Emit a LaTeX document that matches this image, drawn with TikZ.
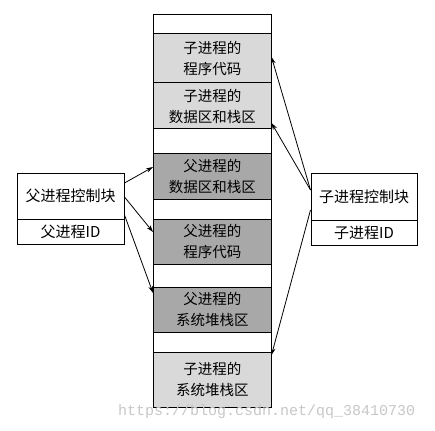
\documentclass[tikz,border=0pt]{standalone}
\usepackage{fontspec}
\setmainfont{Noto Sans CJK SC}
\newfontfamily\wmfont{Liberation Mono}
\usetikzlibrary{arrows.meta}
\definecolor{lightseg}{HTML}{D9D9D9}
\definecolor{darkseg}{HTML}{A8A8A8}
\begin{document}
\begin{tikzpicture}[x=1pt,y=-1pt,
  seg/.style={draw=black,line width=1pt,minimum width=117.5pt,inner sep=0pt,
    align=center,font=\fontsize{14.5}{21}\selectfont},
  lseg/.style={seg,fill=lightseg},
  dseg/.style={seg,fill=darkseg},
  wseg/.style={seg,fill=white},
  cell/.style={draw=black,line width=1pt,inner sep=0pt,
    font=\fontsize{15}{17}\selectfont},
  arr/.style={line width=0.8pt,-{Stealth[length=7pt,width=4.5pt]}}]
\useasboundingbox (0,0) rectangle (435,430);
% column
\node[wseg,minimum height=19pt] (w0) at (212.25,24.5) {};
\node[lseg,minimum height=49pt] (c1) at (212.25,58.5) {子进程的\\程序代码};
\node[lseg,minimum height=46pt] (c2) at (212.25,106) {子进程的\\数据区和栈区};
\node[wseg,minimum height=25pt] (w1) at (212.25,141.5) {};
\node[dseg,minimum height=45pt] (p1) at (212.25,176.5) {父进程的\\数据区和栈区};
\node[wseg,minimum height=20pt] (w2) at (212.25,209) {};
\node[dseg,minimum height=45pt] (p2) at (212.25,241.5) {父进程的\\程序代码};
\node[wseg,minimum height=23pt] (w3) at (212.25,275.5) {};
\node[dseg,minimum height=45pt] (p3) at (212.25,309.5) {父进程的\\系统堆栈区};
\node[wseg,minimum height=20pt] (w4) at (212.25,342) {};
\node[lseg,minimum height=55pt] (c3) at (212.25,379.5) {子进程的\\系统堆栈区};
% left box
\node[cell,minimum width=107pt,minimum height=46pt] (pcb) at (70.5,196) {父进程控制块};
\node[cell,minimum width=107pt,minimum height=25pt] (pid) at (70.5,231.5) {父进程ID};
% right box
\node[cell,minimum width=106pt,minimum height=47pt] (ccb) at (364,196.5) {子进程控制块};
\node[cell,minimum width=106pt,minimum height=25pt] (cid) at (364,232.5) {子进程ID};
% arrows
\draw[arr] ([yshift=13pt]pcb.east) -- ([yshift=9.5pt]p1.west);
\draw[arr] ([yshift=-1pt]pcb.east) -- ([yshift=9.5pt]p2.west);
\draw[arr] ([yshift=-19pt]pcb.east) -- ([yshift=16.5pt]p3.west);
\draw[arr] ([yshift=6.5pt]ccb.west) -- ([yshift=1.5pt]c1.east);
\draw[arr] ([yshift=6.5pt]ccb.west) -- ([yshift=-17pt]c2.east);
\draw[arr] ([yshift=-13.5pt]ccb.west) -- ([yshift=24.5pt]c3.east);
% watermark
\node[text=black!22,font=\wmfont\fontsize{15}{15}\selectfont,inner sep=0pt,anchor=base west] (wm) at (118,415) {https://blog.csdn.net/qq\_38410730};
\end{tikzpicture}
\end{document}
